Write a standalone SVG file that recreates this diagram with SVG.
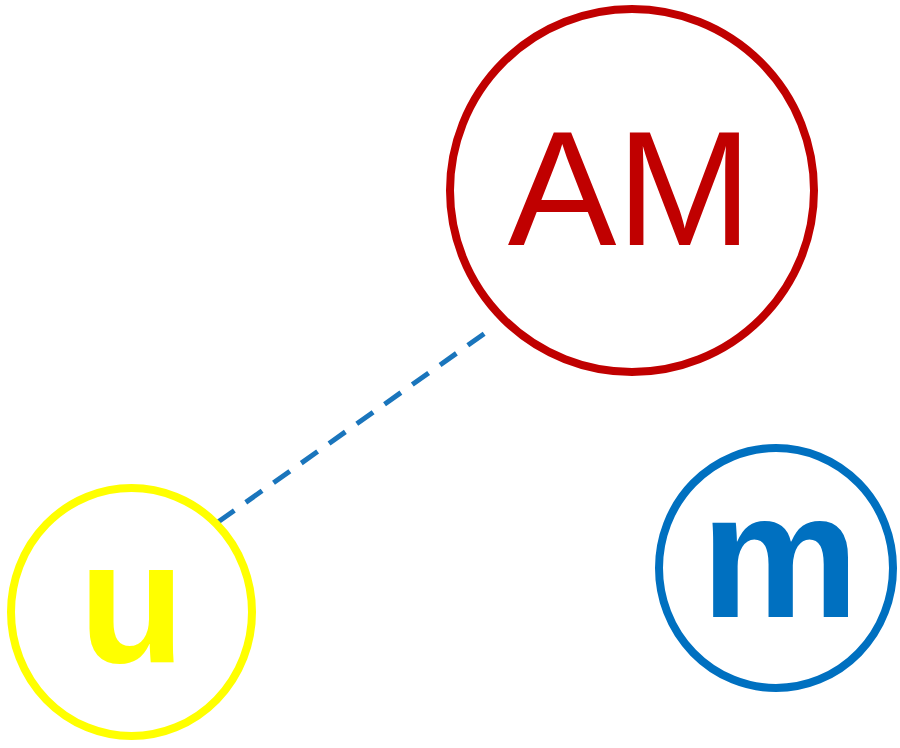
<svg xmlns="http://www.w3.org/2000/svg" width="900" height="748" viewBox="0 0 900 748">
<style>
.node{fill:none;stroke-width:8}
.lbl{font-family:"Liberation Sans",Arial,sans-serif;text-anchor:middle}
</style>
<rect width="900" height="748" fill="#fff"/>
<g id="connectors">
<line x1="218" y1="522" x2="488" y2="331" stroke="#1a75bc" stroke-width="5" stroke-dasharray="20 14"/>
</g>
<g id="node-AM">
<ellipse class="node" cx="632" cy="190.5" rx="182" ry="181.5" stroke="#c00000"/>
<text class="lbl" x="630" y="245" font-size="163" fill="#c00000">AM</text>
</g>
<g id="node-u">
<ellipse class="node" cx="131.5" cy="612" rx="120.5" ry="124" stroke="#ffff00"/>
<text class="lbl" x="132" y="662" font-size="174" font-weight="bold" fill="#ffff00">u</text>
</g>
<g id="node-m">
<ellipse class="node" cx="776" cy="568" rx="117" ry="120" stroke="#0070c0"/>
<text class="lbl" x="780" y="617" font-size="178" font-weight="bold" fill="#0070c0">m</text>
</g>
</svg>
